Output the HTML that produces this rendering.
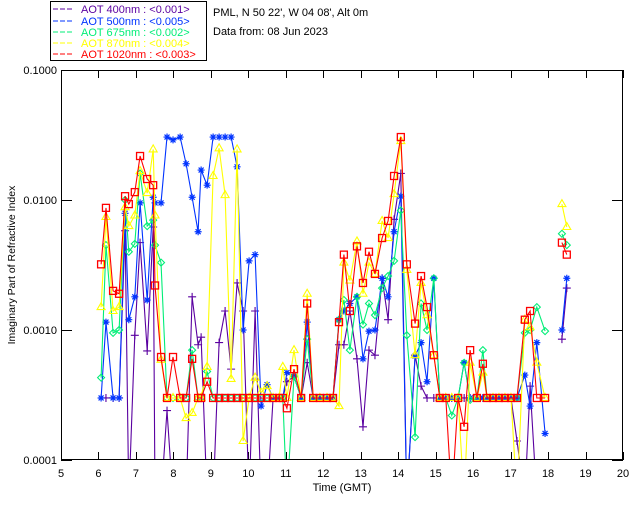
<!DOCTYPE html>
<html><head><meta charset="utf-8"><style>
html,body{margin:0;padding:0;background:#fff;}
svg{display:block;font-family:"Liberation Sans",sans-serif;}
</style></head><body>
<svg id="chart" width="640" height="512" xmlns="http://www.w3.org/2000/svg">
<rect x="0" y="0" width="640" height="512" fill="#fff"/>
<g>
<rect x="50.5" y="1.5" width="156" height="59" fill="#fff" stroke="#000"/>
<g><line x1="53" y1="9" x2="74" y2="9" stroke="#5a00a0" stroke-dasharray="5,2"/><text x="81" y="13" font-size="11" fill="#5a00a0">AOT  400nm : &lt;0.001&gt;</text></g>
<g><line x1="53" y1="21" x2="74" y2="21" stroke="#0033ff" stroke-dasharray="5,2"/><text x="81" y="25" font-size="11" fill="#0033ff">AOT  500nm : &lt;0.005&gt;</text></g>
<g><line x1="53" y1="32" x2="74" y2="32" stroke="#00ee77" stroke-dasharray="5,2"/><text x="81" y="36" font-size="11" fill="#00ee77">AOT  675nm : &lt;0.002&gt;</text></g>
<g><line x1="53" y1="43" x2="74" y2="43" stroke="#ffff00" stroke-dasharray="5,2"/><text x="81" y="47" font-size="11" fill="#ffff00">AOT  870nm : &lt;0.004&gt;</text></g>
<g><line x1="53" y1="54" x2="74" y2="54" stroke="#ff0000" stroke-dasharray="5,2"/><text x="81" y="58" font-size="11" fill="#ff0000">AOT 1020nm : &lt;0.003&gt;</text></g>
</g>
<text x="213" y="16" font-size="11" fill="#000">PML, N 50 22', W 04 08', Alt 0m</text>
<text x="213" y="35" font-size="11" fill="#000">Data from: 08 Jun 2023</text>
<defs><clipPath id="plotclip"><rect x="61" y="70" width="562" height="390"/></clipPath></defs>
<g id="axes"></g>
<g id="series" clip-path="url(#plotclip)"></g>
<rect x="61.5" y="70.5" width="561" height="389" fill="none" stroke="#000"/>
<text x="342" y="491" font-size="11" text-anchor="middle">Time (GMT)</text>
<text transform="translate(15,265) rotate(-90)" font-size="10.5" text-anchor="middle">Imaginary Part of Refractive Index</text>
</svg>
<script>
const F = 0.0003;
const times = [6.07,6.20,6.39,6.55,6.71,6.81,6.97,7.11,7.30,7.46,7.51,7.67,7.83,7.99,8.18,8.34,8.50,8.66,8.74,8.90,9.06,9.22,9.38,9.54,9.70,9.86,10.02,10.18,10.34,10.50,10.66,10.82,10.92,11.03,11.22,11.41,11.57,11.73,11.91,12.10,12.26,12.42,12.55,12.71,12.90,13.06,13.22,13.38,13.57,13.73,13.89,14.07,14.23,14.45,14.61,14.77,14.95,15.11,15.27,15.43,15.60,15.76,15.92,16.10,16.26,16.37,16.53,16.69,16.85,17.01,17.17,17.38,17.52,17.70,17.92,18.37,18.50];
const aot400 = [null,F,F,F,0.0058,0.00005,0.00091,0.0047,0.00069,0.0062,0.00005,0.00005,0.00024,0.00005,0.00005,0.00005,0.0018,0.00077,0.00088,0.00005,0.00005,0.0008,0.0014,0.0005,0.0023,0.0014,0.00005,0.0014,0.00005,0.00005,F,F,F,0.0004,0.00044,F,0.00056,F,F,F,F,0.00077,0.00077,0.0014,0.0006,0.00018,0.0007,0.00064,0.0025,0.0012,0.0071,0.016,0.00005,0.00064,0.00037,F,F,F,F,F,F,F,F,F,F,F,F,F,F,F,0.00014,0.00005,0.00037,0.00005,null,0.00085,0.0021];
const aot500 = [F,0.00115,F,F,0.0079,0.0012,0.0018,0.0095,0.0017,0.0105,0.0095,0.0095,0.0305,0.029,0.0305,0.019,0.0105,0.0057,0.017,0.013,0.0305,0.0305,0.0305,0.0305,0.018,0.001,0.0034,0.0038,0.00026,0.00038,F,F,F,0.00047,0.00044,F,0.00115,F,F,F,F,0.0012,0.0014,0.0016,0.0018,0.0006,0.00098,0.001,0.0025,0.0018,0.0057,0.0107,0.00005,0.00063,0.0008,0.0004,0.0025,F,F,F,F,0.00056,F,F,F,F,F,F,F,F,F,0.00045,0.00026,0.0008,0.00016,0.001,0.0025];
const aot675 = [0.00043,0.0045,0.00095,0.001,0.01,0.004,0.0046,0.016,0.0063,0.007,0.0045,0.0033,F,F,F,F,0.0007,F,F,0.00048,F,F,F,F,F,F,F,F,F,F,F,F,F,0.00005,0.00044,F,0.00085,F,F,F,F,0.0012,0.0017,0.0007,0.0018,0.0011,0.0016,0.0013,0.0021,0.0026,0.0034,0.0083,0.00091,0.00015,0.0016,0.001,0.0025,F,F,0.00022,F,0.00056,0.00029,F,0.0007,F,F,F,F,F,F,0.00095,0.001,0.0015,0.00098,0.0055,0.0045];
const aot870 = [0.0015,0.0074,0.0014,0.0015,0.0088,0.0063,0.0076,0.0167,0.0113,0.0245,0.0076,0.00059,F,F,F,0.00021,0.00023,F,F,0.00052,0.0153,0.025,0.0109,0.00042,0.0245,0.00014,F,0.00043,0.00033,0.00037,F,F,0.00052,F,0.0007,F,0.0019,F,F,F,F,0.00026,0.0033,0.0024,0.0048,0.0019,0.0033,0.0027,0.0069,0.0051,0.0111,0.0284,0.0029,0.00064,0.0023,0.0013,0.00064,F,F,F,F,0.00005,0.00056,F,0.00047,F,F,F,F,F,0.00005,0.0012,0.00105,0.00056,F,0.0093,0.0062];
const aot1020 = [0.0032,0.0087,0.002,0.0019,0.0107,0.0093,0.0115,0.0218,0.0145,0.013,0.0022,0.00062,F,0.00062,F,F,0.0006,F,F,0.0004,F,F,F,F,F,F,F,F,F,F,F,F,F,0.00025,0.0005,F,0.0016,F,F,F,F,0.00115,0.0038,0.0014,0.0044,0.0023,0.004,0.0027,0.0051,0.0069,0.0153,0.0305,0.0032,0.00112,0.0026,0.0015,0.00064,F,F,0.00005,F,0.00018,0.0007,F,0.00055,F,F,F,F,F,F,0.0012,0.0014,F,F,0.0047,0.0038];
const xTicks = [5,6,7,8,9,10,11,12,13,14,15,16,17,18,19,20];
const yTicks = [0.0001,0.001,0.01,0.1];
const yTickLabels = ["0.0001","0.0010","0.0100","0.1000"];

const X0=61,X1=623,Y0=460,Y1=70;
function xs(t){return X0+(t-5)/(20-5)*(X1-X0);}
function ys(v){return Y0-(Math.log10(v)+4)/3*(Y0-Y1);}
const NS="http://www.w3.org/2000/svg";
function mk(tag,attrs,parent){const e=document.createElementNS(NS,tag);for(const k in attrs)e.setAttribute(k,attrs[k]);parent.appendChild(e);return e;}
const axes=document.getElementById('axes');
xTicks.forEach(t=>{
  const g=mk('g',{},axes);
  
  
  const x=Math.round(xs(t))+0.5;
  mk('line',{x1:x,y1:Y0,x2:x,y2:Y0-8,stroke:'#000'},g);
  mk('line',{x1:x,y1:Y1,x2:x,y2:Y1+8,stroke:'#000'},g);
  const tx=mk('text',{x:xs(t),y:477,'font-size':11,'text-anchor':'middle'},g);
  tx.textContent=String(t);
});
yTicks.forEach((v,i)=>{
  const g=mk('g',{},axes);
  
  
  const y=Math.round(ys(v))+0.5;
  mk('line',{x1:X0,y1:y,x2:X0+11,y2:y,stroke:'#000'},g);
  mk('line',{x1:X1,y1:y,x2:X1-11,y2:y,stroke:'#000'},g);
  const tx=mk('text',{x:57,y:ys(v)+4,'font-size':11,'text-anchor':'end'},g);
  tx.textContent=yTickLabels[i];
});
const series=[
  {name:'aot-400nm',vals:aot400,color:'#5a00a0',mark:'plus'},
  {name:'aot-500nm',vals:aot500,color:'#0033ff',mark:'star'},
  {name:'aot-675nm',vals:aot675,color:'#00ee77',mark:'diamond'},
  {name:'aot-870nm',vals:aot870,color:'#ffff00',mark:'tri'},
  {name:'aot-1020nm',vals:aot1020,color:'#ff0000',mark:'square'}
];
const sg=document.getElementById('series');
series.forEach(s=>{
  const g=mk('g',{},sg);
  
  
  let d='',prev=null;
  times.forEach((t,i)=>{
    const v=s.vals[i];
    if(v==null){prev=null;return;}
    const x=xs(t),y=ys(v);
    if(prev!==null && t-prev<0.3) d+='L'+x.toFixed(1)+' '+y.toFixed(1);
    else d+='M'+x.toFixed(1)+' '+y.toFixed(1);
    prev=t;
  });
  const ln=mk('path',{d:d,fill:'none',stroke:s.color,'stroke-width':1.1},g);
  
  
  times.forEach((t,i)=>{
    const v=s.vals[i];
    if(v==null) return;
    const x=xs(t),y=ys(v);
    let m;
    if(s.mark==='square') m=mk('rect',{x:x-3.5,y:y-3.5,width:7,height:7,fill:'none',stroke:s.color,'stroke-width':1.3},g);
    else if(s.mark==='tri') m=mk('path',{d:`M${x} ${y-4.5}L${x+4} ${y+2.5}L${x-4} ${y+2.5}Z`,fill:'none',stroke:s.color,'stroke-width':1.1},g);
    else if(s.mark==='diamond') m=mk('path',{d:`M${x} ${y-3.5}L${x+3.5} ${y}L${x} ${y+3.5}L${x-3.5} ${y}Z`,fill:'none',stroke:s.color,'stroke-width':1.1},g);
    else if(s.mark==='plus') m=mk('path',{d:`M${x-4} ${y}H${x+4}M${x} ${y-4}V${y+4}`,fill:'none',stroke:s.color,'stroke-width':1.1},g);
    else m=mk('path',{d:`M${x-3.5} ${y}H${x+3.5}M${x} ${y-3.5}V${y+3.5}M${x-2.5} ${y-2.5}L${x+2.5} ${y+2.5}M${x-2.5} ${y+2.5}L${x+2.5} ${y-2.5}`,fill:'none',stroke:s.color,'stroke-width':1.2},g);
    
    
  });
});
</script>
</body></html>
